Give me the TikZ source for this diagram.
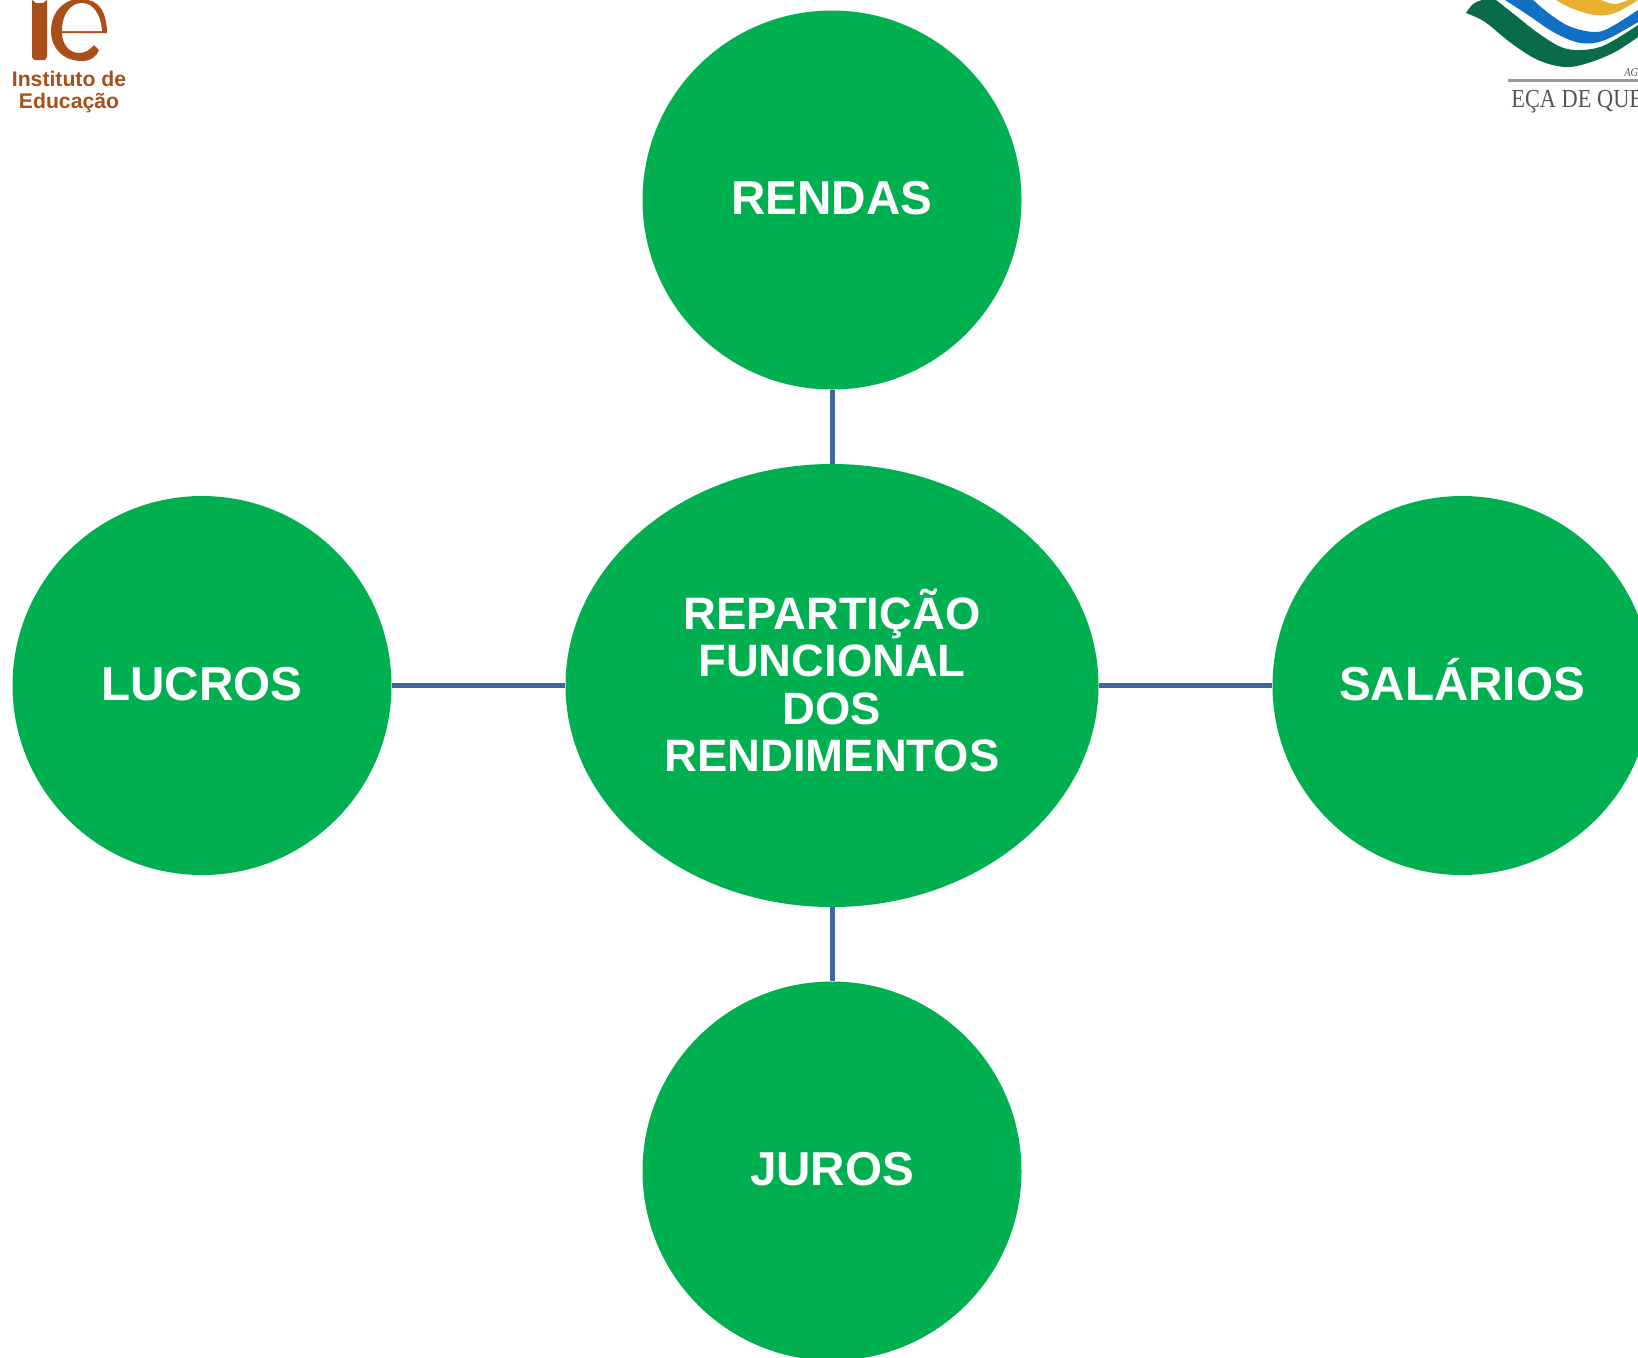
\documentclass[tikz,border=0pt]{standalone}
\usepackage{fontspec}
\setmainfont{Liberation Sans}
\newfontfamily\serifface[FakeStretch=0.86]{Liberation Serif}
\usetikzlibrary{shapes.geometric}
\definecolor{nodegreen}{HTML}{00B050}
\definecolor{linkblue}{HTML}{41659F}
\definecolor{iebrown}{HTML}{A9501A}
\definecolor{logogreen}{HTML}{0A6B4B}
\definecolor{logoblue}{HTML}{1170C4}
\definecolor{logoyellow}{HTML}{E9B030}
\definecolor{logogrey}{HTML}{555555}
\tikzset{
  bubble/.style={circle,fill=nodegreen,text=white,minimum size=189.5pt,inner sep=0pt,text height=17pt,text depth=2.5pt,font=\fontsize{23.8}{23.8}\selectfont\bfseries},
  hub/.style={ellipse,fill=nodegreen,text=white,minimum width=266.5pt,minimum height=221.5pt,inner sep=0pt,align=center,font=\fontsize{22.7}{23.66}\selectfont\bfseries},
  link/.style={draw=linkblue,line width=2.5pt},
  ietext/.style={text=iebrown,inner sep=0pt,font=\fontsize{10.6}{10.6}\selectfont\bfseries},
}
\begin{document}
\begin{tikzpicture}[x=0.5pt,y=-0.5pt]
\useasboundingbox (0,0) rectangle (1638,1357);
\clip (0,0) rectangle (1638,1357);
% main diagram
\node[hub] (hubnode) at (832,685.5) {\raisebox{-1pt}[\height][\depth]{\begin{tabular}{@{}c@{}}REPARTIÇÃO\\FUNCIONAL\\DOS\\RENDIMENTOS\end{tabular}}};
\node[bubble] (rendas) at (832,200) {RENDAS};
\node[bubble] (lucros) at (202,685.5) {LUCROS};
\node[bubble] (salarios) at (1462,685.5) {SALÁRIOS};
\node[bubble] (juros) at (832,1171) {JUROS};
\draw[link] (hubnode) -- (rendas);
\draw[link] (hubnode) -- (lucros);
\draw[link] (hubnode) -- (salarios);
\draw[link] (hubnode) -- (juros);
% left logo
\fill[iebrown] (32,0) -- (36,3) -- (43,3) -- (47,0) -- (47,57) -- (45,60) -- (34,60) -- (32,57) -- cycle;
\fill[iebrown] (62,33) -- (107,33) .. controls (107,14) and (100,2) .. (88,0) -- (72,0) .. controls (59,4) and (51,16) .. (51,31) .. controls (51,48) and (63,61) .. (82,61) .. controls (91,61) and (97,56) .. (99,50) -- (94,45) .. controls (90,50) and (85,53) .. (79,53) .. controls (69,53) and (62,44) .. (62,33) -- cycle;
\fill[white] (62,31) .. controls (62,14) and (71,3) .. (82,3) .. controls (93,3) and (101,15) .. (102,31) -- cycle;
\node[ietext,anchor=base] (ieone) at (69,86) {Instituto de};
\node[ietext,anchor=base] (ietwo) at (69,108) {Educação};
% right logo
\fill[logogreen] plot[smooth,tension=0.6] coordinates {(1466,13) (1473,4) (1482,0)} -- (1496,0) -- plot[smooth,tension=0.6] coordinates {(1496,0) (1515,15) (1538,33) (1561,47) (1581,50) (1605,45) (1638,25)} -- (1638,37) -- plot[smooth,tension=0.6] coordinates {(1638,37) (1615,52) (1588,63) (1565,67) (1538,60) (1511,43) (1485,22) (1466,13)} -- cycle;
\fill[logoblue] plot[smooth,tension=0.6] coordinates {(1505,0) (1528,15) (1555,33) (1581,43) (1605,40) (1638,22)} -- (1638,10) -- plot[smooth,tension=0.6] coordinates {(1638,10) (1611,27) (1595,32) (1571,27) (1551,15) (1533,0)} -- cycle;
\fill[logoyellow] plot[smooth,tension=0.6] coordinates {(1556,0) (1571,8) (1595,15) (1615,13) (1638,0)} -- (1628,0) -- plot[smooth,tension=0.6] coordinates {(1628,0) (1615,4) (1601,0)} -- cycle;
\fill[logogrey!60] (1508,79) rectangle (1638,82);
\node[anchor=base west,inner sep=0pt,text=logogrey,font=\serifface\itshape\fontsize{6}{6}\selectfont] (agtext) at (1624,76) {AG};
\node[anchor=base west,inner sep=0pt,text=logogrey,font=\serifface\fontsize{13}{13}\selectfont] (ecatext) at (1511,107) {EÇA DE QUEI};
\end{tikzpicture}
\end{document}
